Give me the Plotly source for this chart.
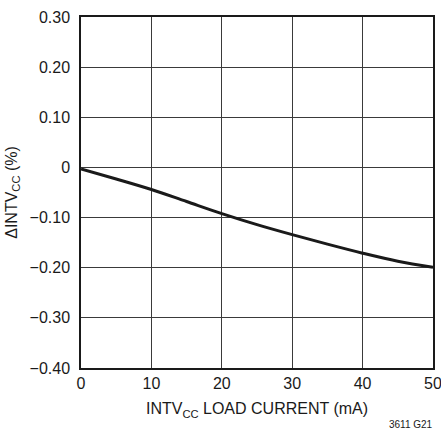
import plotly.graph_objects as go

load_current = [0, 5, 10, 15, 20, 25, 30, 35, 40, 45, 50]
delta_intvcc = [-0.003, -0.023, -0.044, -0.068, -0.092, -0.114, -0.134, -0.153, -0.171, -0.187, -0.199]

x_ticks = [0, 10, 20, 30, 40, 50]
y_ticks = [-0.4, -0.3, -0.2, -0.1, 0, 0.1, 0.2, 0.3]
y_labels = ["\u22120.40", "\u22120.30", "\u22120.20", "\u22120.10", "0", "0.10", "0.20", "0.30"]

FONT = "Liberation Sans, Arial, sans-serif"

fig = go.Figure()
fig.add_trace(go.Scatter(x=load_current, y=delta_intvcc, mode="lines",
                         line=dict(color="#1a1a1a", width=3, shape="spline"),
                         showlegend=False, hoverinfo="skip"))

fig.update_layout(
    width=441, height=431,
    margin=dict(l=81, r=8, t=17, b=63),
    paper_bgcolor="white", plot_bgcolor="white",
    font=dict(family=FONT, size=16, color="#1a1a1a"),
    xaxis=dict(range=[0, 50], tickvals=x_ticks, ticktext=[str(v) for v in x_ticks],
               showgrid=True, gridcolor="#3a3a3a", gridwidth=1,
               showline=True, linecolor="#1a1a1a", linewidth=1.5, mirror=True,
               zeroline=False, ticks="", ticklen=0, automargin=False,
               ticklabeloverflow="allow",
               tickfont=dict(family=FONT, size=16),
               title=dict(text="INTV<sub>CC</sub> LOAD CURRENT (mA)", standoff=12,
                          font=dict(family=FONT, size=16))),
    yaxis=dict(range=[-0.4, 0.3], tickvals=y_ticks, ticktext=y_labels,
               showgrid=True, gridcolor="#3a3a3a", gridwidth=1,
               showline=True, linecolor="#1a1a1a", linewidth=1.5, mirror=True,
               zeroline=False, ticks="outside", ticklen=6, tickcolor="rgba(0,0,0,0)",
               automargin=False, ticklabeloverflow="allow",
               tickfont=dict(family=FONT, size=16),
               title=dict(text="\u0394INTV<sub>CC</sub> (%)", standoff=8,
                          font=dict(family=FONT, size=16))),
    annotations=[dict(text="3611 G21", x=1.0, y=0, xref="paper", yref="paper",
                      xanchor="right", yanchor="top", yshift=-49, xshift=2, showarrow=False,
                      font=dict(family=FONT, size=10, color="#1a1a1a"))],
)

fig.write_html("out.html", config={"displayModeBar": False},
               post_script="document.body.style.margin='0';document.body.style.overflow='hidden';")
